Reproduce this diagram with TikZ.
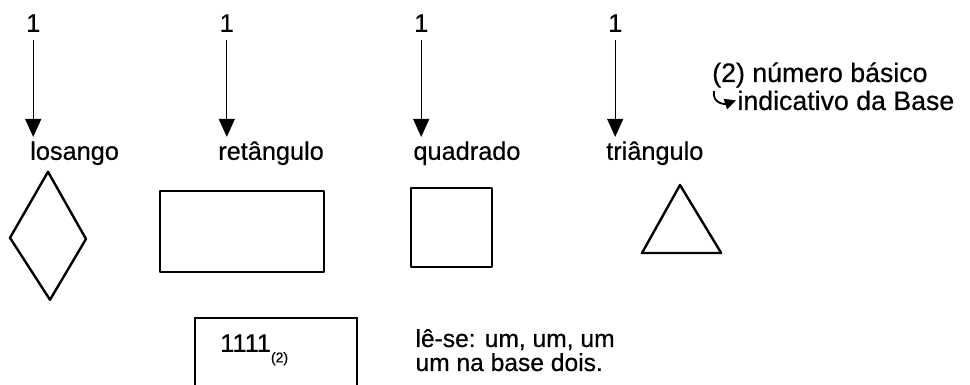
\documentclass[tikz,border=0pt]{standalone}
\usepackage{fontspec}
\setmainfont[FakeBold=0.5]{Liberation Sans}
\usepackage{tikz}
\usetikzlibrary{arrows.meta,positioning}

\tikzset{
    txt/.style={inner sep=0pt, anchor=base west, font=\fontsize{18}{21}\selectfont},
    notetxt/.style={txt, font=\fontsize{19}{22}\selectfont},
    figline/.style={line width=1.7pt, line join=round},
    downarrow/.style={line width=0.9pt, shorten >=3pt, -{Triangle[length=0.45cm,width=0.4cm]}},
    hookarrow/.style={line width=1.3pt, -{Triangle[length=0.28cm,width=0.26cm]}}
}

\begin{document}
\begin{tikzpicture}
    \useasboundingbox (0,0) rectangle (24.25,9.625);

    % Digits, arrows and names
    \foreach \i/\x/\lx/\name in {1/0.83/0.75/losango, 2/5.67/5.45/retângulo, 3/10.53/10.33/quadrado, 4/15.38/15.15/triângulo} {
        \node[txt, anchor=base] (one\i) at (\x,8.83) {1};
        \node[txt] (lbl\i) at (\lx,5.63) {\name};
        \draw[downarrow] ([yshift=-0.2cm]one\i.south) -- (one\i.south |- lbl\i.north);
    }

    % Losango
    \draw[figline] (1.2,5.33) -- (0.25,3.68) -- (1.25,2.13) -- (2.15,3.65) -- cycle;

    % Retangulo
    \draw[figline] (4.0,4.85) rectangle (8.1,2.83);

    % Quadrado
    \draw[figline] (10.28,4.93) rectangle (12.3,2.95);

    % Triangulo
    \draw[figline] (17.0,5.0) -- (16.05,3.3) -- (18.03,3.3) -- cycle;

    % Base note
    \node[notetxt] (note1) at (17.8,7.575) {(2) número básico};
    \node[notetxt] (note2) at (18.43,6.875) {indicativo da Base};
    \draw[hookarrow] ([xshift=0.05cm,yshift=-0.08cm]note1.south west) .. controls +(-0.05,-0.3) and +(-0.3,-0.1) .. ([xshift=-0.03cm]note2.west);

    % Number box
    \draw[line width=1.1pt] (4.88,0) |- (8.93,1.68) -- (8.93,0);
    \node[txt] (num) at (5.5,0.83) {1111\raisebox{-7.5pt}{\fontsize{10}{11}\selectfont(2)}};

    % Reading
    \node[txt, font=\fontsize{17.5}{20}\selectfont] (read1) at (10.38,0.95) {lê-se: um, um, um};
    \node[txt, font=\fontsize{17.5}{20}\selectfont] (read2) at (10.38,0.35) {um na base dois.};
\end{tikzpicture}
\end{document}
